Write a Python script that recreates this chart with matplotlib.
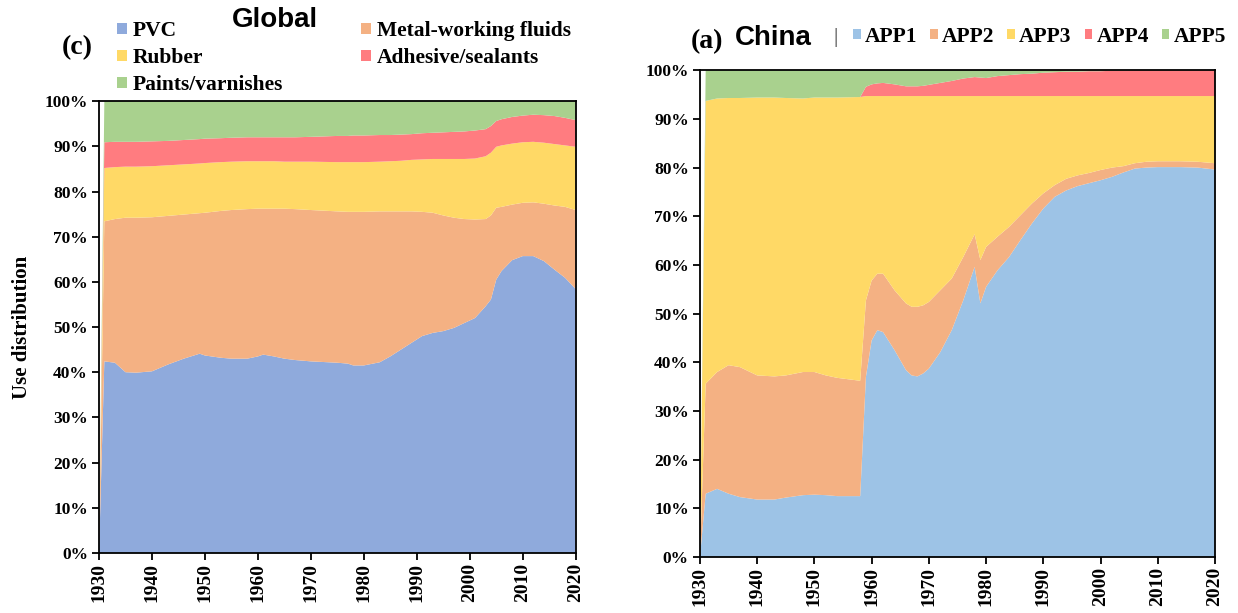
import matplotlib
matplotlib.use("Agg")
import matplotlib.pyplot as plt
from matplotlib.patches import Patch
import numpy as np

# ---------------- Global (c) ----------------
g_years = [1930, 1931, 1933, 1935, 1937, 1940, 1943, 1946, 1949, 1950, 1953, 1955,
           1958, 1960, 1961, 1963, 1965, 1967, 1970, 1975, 1977, 1978, 1980, 1983,
           1985, 1987, 1989, 1991, 1993, 1995, 1997, 1999, 2001, 2003, 2004, 2005,
           2006, 2008, 2010, 2012, 2014, 2016, 2018, 2020]
g_pvc = [0, 42.4, 42.1, 40.0, 39.9, 40.2, 41.7, 43.0, 44.1, 43.7, 43.2, 43.0,
         43.0, 43.5, 43.9, 43.5, 43.0, 42.7, 42.4, 42.1, 41.9, 41.5, 41.5, 42.2,
         43.5, 45.0, 46.5, 48.0, 48.7, 49.1, 49.8, 50.9, 52.0, 54.6, 56.1, 60.5,
         62.4, 64.8, 65.7, 65.7, 64.6, 62.7, 60.9, 58.4]
g_mwf = [0, 31.0, 31.8, 34.2, 34.3, 34.1, 32.9, 31.9, 31.1, 31.6, 32.5, 32.9,
         33.1, 32.7, 32.3, 32.7, 33.2, 33.4, 33.5, 33.5, 33.6, 34.0, 34.0, 33.4,
         32.1, 30.6, 29.1, 27.5, 26.6, 25.6, 24.4, 23.0, 21.8, 19.3, 18.6, 15.9,
         14.2, 12.3, 11.8, 11.9, 12.7, 14.2, 15.7, 17.5]
g_rubber = [0, 11.8, 11.5, 11.3, 11.3, 11.3, 11.2, 11.1, 11.0, 11.0, 10.8, 10.7,
            10.6, 10.5, 10.5, 10.5, 10.4, 10.5, 10.7, 10.9, 11.0, 11.0, 11.0, 11.0,
            11.1, 11.2, 11.4, 11.6, 11.9, 12.5, 13.0, 13.3, 13.5, 13.9, 13.9, 13.5,
            13.6, 13.5, 13.4, 13.4, 13.5, 13.6, 13.6, 14.0]
g_adhesive = [0, 5.7, 5.6, 5.5, 5.5, 5.5, 5.4, 5.4, 5.4, 5.4, 5.3, 5.3,
              5.3, 5.3, 5.3, 5.3, 5.4, 5.4, 5.5, 5.8, 5.8, 5.9, 5.9, 5.9,
              5.8, 5.8, 5.7, 5.8, 5.8, 5.9, 6.0, 6.1, 6.2, 6.0, 5.9, 5.7,
              5.8, 5.9, 5.9, 6.0, 6.1, 6.2, 6.1, 5.9]
g_paints = [0, 9.1, 9.0, 9.0, 9.0, 8.9, 8.8, 8.6, 8.4, 8.3, 8.2, 8.1,
            8.0, 8.0, 8.0, 8.0, 8.0, 8.0, 7.9, 7.7, 7.7, 7.6, 7.6, 7.5,
            7.5, 7.4, 7.3, 7.1, 7.0, 6.9, 6.8, 6.7, 6.5, 6.2, 5.5, 4.4,
            4.0, 3.5, 3.2, 3.0, 3.1, 3.3, 3.7, 4.2]
g_labels = ["PVC", "Metal-working fluids", "Rubber", "Adhesive/sealants", "Paints/varnishes"]
g_colors = ["#8FAADC", "#F4B183", "#FFD966", "#FF7C80", "#A9D18E"]

# ---------------- China (a) ----------------
c_years = [1930, 1931, 1933, 1935, 1937, 1940, 1943, 1945, 1948, 1950, 1952, 1954,
           1958, 1959, 1960, 1961, 1962, 1964, 1966, 1967, 1968, 1969, 1970, 1972,
           1974, 1976, 1978, 1979, 1980, 1982, 1984, 1986, 1988, 1990, 1992, 1994,
           1996, 1998, 2000, 2002, 2004, 2006, 2008, 2010, 2014, 2017, 2020]
c_app1 = [0, 13.0, 14.0, 13.0, 12.3, 11.8, 11.8, 12.2, 12.7, 12.8, 12.7, 12.5,
          12.5, 37.0, 44.5, 46.6, 46.2, 42.5, 38.4, 37.3, 37.1, 37.7, 38.7, 42.1,
          46.6, 52.7, 59.6, 52.1, 55.5, 58.9, 61.6, 65.1, 68.5, 71.6, 74.0, 75.3,
          76.2, 76.8, 77.4, 78.1, 79.0, 79.8, 80.0, 80.1, 80.1, 80.0, 79.6]
c_app2 = [0, 22.6, 24.0, 26.4, 26.7, 25.5, 25.3, 25.1, 25.3, 25.2, 24.6, 24.3,
          23.7, 15.7, 12.3, 11.6, 12.0, 12.3, 13.7, 14.1, 14.3, 14.0, 13.7, 12.7,
          10.6, 8.9, 6.7, 8.9, 8.2, 6.9, 6.2, 5.1, 4.1, 3.1, 2.4, 2.4,
          2.2, 2.1, 2.1, 1.9, 1.3, 1.1, 1.2, 1.2, 1.2, 1.2, 1.3]
c_app3 = [0, 58.1, 56.2, 54.9, 55.3, 57.1, 57.3, 57.0, 56.2, 56.4, 57.1, 57.6,
          58.3, 42.0, 37.9, 36.5, 36.5, 39.9, 42.6, 43.3, 43.3, 43.0, 42.3, 39.9,
          37.5, 33.1, 28.4, 33.7, 31.0, 28.9, 26.9, 24.5, 22.1, 20.0, 18.3, 17.0,
          16.3, 15.8, 15.2, 14.7, 14.4, 13.8, 13.5, 13.4, 13.4, 13.5, 13.8]
c_app4 = [0, 0, 0, 0, 0, 0, 0, 0, 0, 0, 0, 0,
          0, 1.9, 2.4, 2.6, 2.7, 2.4, 2.0, 2.0, 2.0, 2.1, 2.3, 2.7,
          3.1, 3.6, 3.9, 3.8, 3.7, 4.1, 4.3, 4.5, 4.6, 4.8, 4.9, 5.0,
          5.0, 5.1, 5.1, 5.2, 5.2, 5.3, 5.3, 5.3, 5.3, 5.3, 5.3]
c_app5 = [0, 6.3, 5.8, 5.7, 5.7, 5.6, 5.6, 5.7, 5.8, 5.6, 5.6, 5.6,
          5.5, 3.4, 2.9, 2.7, 2.6, 2.9, 3.3, 3.3, 3.3, 3.2, 3.0, 2.6,
          2.2, 1.7, 1.4, 1.5, 1.6, 1.2, 1.0, 0.8, 0.7, 0.5, 0.4, 0.3,
          0.3, 0.2, 0.2, 0.1, 0.1, 0, 0, 0, 0, 0, 0]
c_labels = ["APP1", "APP2", "APP3", "APP4", "APP5"]
c_colors = ["#9DC3E6", "#F4B183", "#FFD966", "#FF7C80", "#A9D18E"]

x_ticks = list(range(1930, 2021, 10))
y_ticks = list(range(0, 101, 10))

SERIF = ["Liberation Serif", "DejaVu Serif"]
SANS = ["Liberation Sans", "DejaVu Sans"]

fig = plt.figure(figsize=(12.38, 6.13), dpi=100)

def style_axes(ax):
    ax.set_xlim(1930, 2020)
    ax.set_ylim(0, 100)
    ax.set_xticks(x_ticks)
    ax.set_yticks(y_ticks)
    ax.set_xticklabels([str(t) for t in x_ticks], rotation=90,
                       fontfamily=SERIF, fontweight="bold", fontsize=14)
    ax.set_yticklabels([f"{t}%" for t in y_ticks],
                       fontfamily=SERIF, fontweight="bold", fontsize=12.5)
    ax.tick_params(axis="both", direction="out", length=5, width=1.3, pad=3)
    ax.tick_params(axis="x", pad=2)
    for s in ax.spines.values():
        s.set_linewidth(1.3)
        s.set_color("black")

# Left: Global
ax1 = fig.add_axes([0.080, 0.098, 0.385, 0.737])
ax1.stackplot(g_years, g_pvc, g_mwf, g_rubber, g_adhesive, g_paints,
              colors=g_colors, linewidth=0)
style_axes(ax1)
ax1.set_ylabel("Use distribution", fontfamily=SERIF, fontweight="bold", fontsize=15, labelpad=9)

# Right: China
ax2 = fig.add_axes([0.5654, 0.0914, 0.416, 0.794])
ax2.stackplot(c_years, c_app1, c_app2, c_app3, c_app4, c_app5,
              colors=c_colors, linewidth=0)
style_axes(ax2)

# Titles / panel letters
fig.text(0.050, 0.922, "(c)", fontfamily=SERIF, fontweight="bold", fontsize=20, va="center")
fig.text(0.187, 0.968, "Global", fontfamily=SANS, fontweight="bold", fontsize=20, va="center")
fig.text(0.558, 0.932, "(a)", fontfamily=SERIF, fontweight="bold", fontsize=20, va="center")
fig.text(0.594, 0.938, "China", fontfamily=SANS, fontweight="bold", fontsize=20, va="center")
fig.text(0.673, 0.939, "|", fontfamily=SERIF, fontsize=15, va="center", color="#333333")

# Legend left
g_handles = [Patch(facecolor=c, edgecolor="none") for c in g_colors]
order = [0, 2, 4, 1, 3]
leg1 = fig.legend([g_handles[i] for i in order], [g_labels[i] for i in order],
                  loc="center left", bbox_to_anchor=(0.0945, 0.905), ncol=2, frameon=False,
                  prop={"family": SERIF, "weight": "bold", "size": 15.5},
                  handlelength=0.45, handleheight=0.45, handletextpad=0.3,
                  columnspacing=3.6, labelspacing=0.32, borderaxespad=0.0, borderpad=0.0)

# Legend right
c_handles = [Patch(facecolor=c, edgecolor="none") for c in c_colors]
leg2 = fig.legend(c_handles, c_labels, loc="center left", bbox_to_anchor=(0.689, 0.940),
                  ncol=5, frameon=False,
                  prop={"family": SERIF, "weight": "bold", "size": 15.5},
                  handlelength=0.35, handleheight=0.35, handletextpad=0.2,
                  columnspacing=0.6, borderaxespad=0.0, borderpad=0.0)

fig.savefig("out.png", dpi=100)
